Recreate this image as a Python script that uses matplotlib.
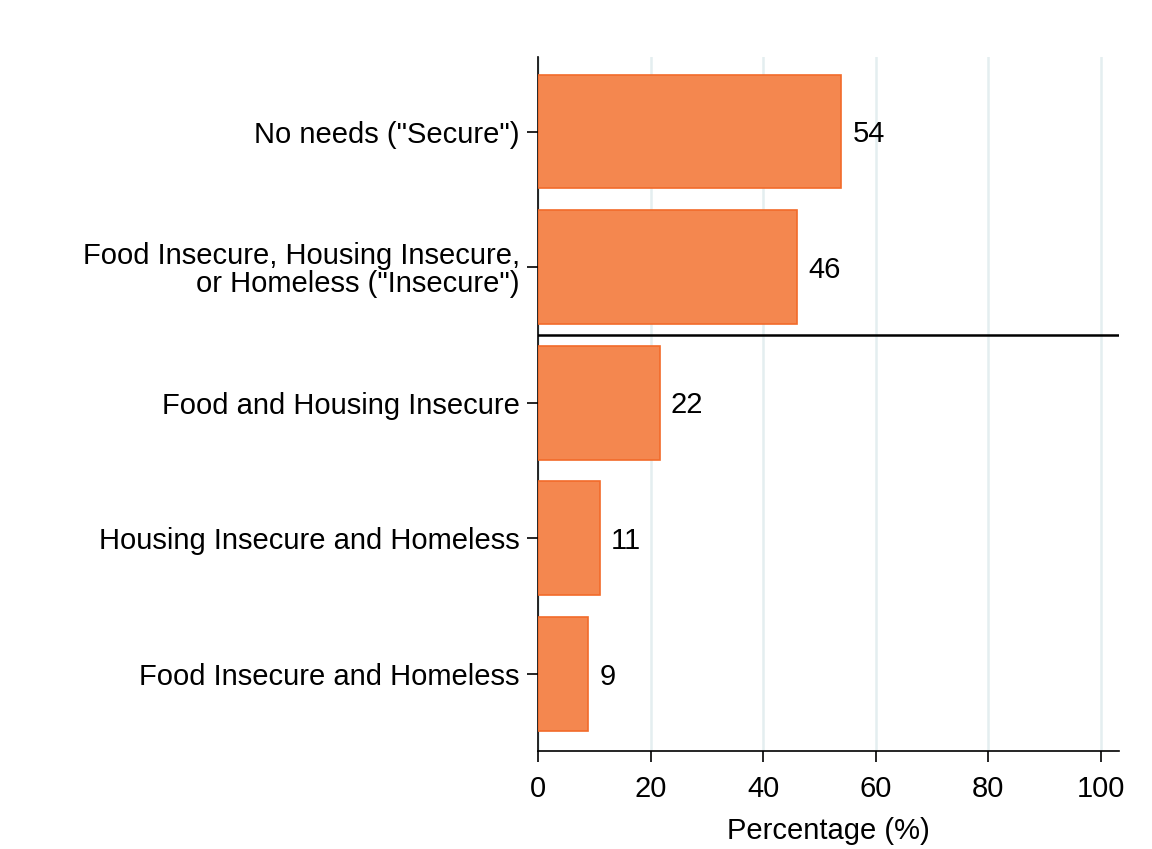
import matplotlib.pyplot as plt

plt.rcParams['font.family'] = ['Liberation Sans', 'DejaVu Sans']

categories = [
    'No needs ("Secure")',
    'Food Insecure, Housing Insecure,\nor Homeless ("Insecure")',
    'Food and Housing Insecure',
    'Housing Insecure and Homeless',
    'Food Insecure and Homeless',
]
values = [53.9, 46.1, 21.6, 11.0, 8.9]
labels = ['54', '46', '22', '11', '9']
xticks = [0, 20, 40, 60, 80, 100]


def main():
    fig = plt.figure(figsize=(11.52, 8.49), dpi=100)
    ax = fig.add_axes([0.467, 0.1154, 0.5043, 0.8175])

    pos = list(range(len(categories)))[::-1]
    ax.barh(pos, values, height=0.84, color='#F4874F', edgecolor='#F26B2A', linewidth=1.2, zorder=3)

    for p, v, lab in zip(pos, values, labels):
        ax.annotate(lab, (v, p), xytext=(8, -2), textcoords='offset points',
                    va='center', ha='left', fontsize=21)

    # divider between overall and detailed groups
    ax.axhline(2.5, color='black', linewidth=1.8, zorder=4)

    ax.set_xlim(0, 103.2)
    ax.set_ylim(-0.57, 4.55)
    ax.set_xticks(xticks)
    ax.set_yticks(pos)
    ax.set_yticklabels(categories, ha='right', multialignment='right', linespacing=1.0)
    ax.tick_params(axis='both', labelsize=21, length=8, width=1.2, direction='out', pad=5)
    ax.tick_params(axis='x', pad=9)
    ax.set_xlabel('Percentage (%)', fontsize=21, labelpad=10)

    ax.grid(axis='x', color='#E4EEF0', linewidth=1.8, zorder=0)
    ax.spines['top'].set_visible(False)
    ax.spines['right'].set_visible(False)
    ax.spines['left'].set_linewidth(1.2)
    ax.spines['bottom'].set_linewidth(1.2)

    plt.savefig('out.png', dpi=100)


if __name__ == '__main__':
    main()
